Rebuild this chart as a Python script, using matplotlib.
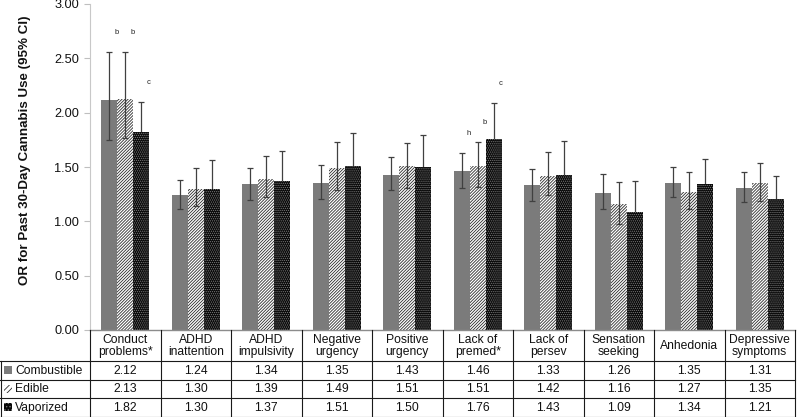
import numpy as np
import matplotlib
matplotlib.use("Agg")
import matplotlib.pyplot as plt
from matplotlib.patches import Rectangle

plt.rcParams['font.family'] = ['Liberation Sans', 'DejaVu Sans']
plt.rcParams['hatch.linewidth'] = 0.6

categories = ["Conduct\nproblems*", "ADHD\ninattention", "ADHD\nimpulsivity", "Negative\nurgency",
              "Positive\nurgency", "Lack of\npremed*", "Lack of\npersev", "Sensation\nseeking",
              "Anhedonia", "Depressive\nsymptoms"]
series_names = ["Combustible", "Edible", "Vaporized"]

combustible = [2.12, 1.24, 1.34, 1.35, 1.43, 1.46, 1.33, 1.26, 1.35, 1.31]
comb_lo = [1.75, 1.11, 1.20, 1.21, 1.29, 1.31, 1.19, 1.11, 1.22, 1.18]
comb_hi = [2.56, 1.38, 1.49, 1.52, 1.59, 1.63, 1.48, 1.44, 1.50, 1.45]

edible = [2.13, 1.30, 1.39, 1.49, 1.51, 1.51, 1.42, 1.16, 1.27, 1.35]
edib_lo = [1.77, 1.14, 1.22, 1.29, 1.31, 1.32, 1.24, 0.98, 1.11, 1.19]
edib_hi = [2.56, 1.49, 1.60, 1.73, 1.72, 1.73, 1.64, 1.36, 1.45, 1.54]

vaporized = [1.82, 1.30, 1.37, 1.51, 1.50, 1.76, 1.43, 1.09, 1.34, 1.21]
vapo_lo = [1.58, 1.08, 1.14, 1.26, 1.26, 1.48, 1.18, 0.87, 1.14, 1.03]
vapo_hi = [2.10, 1.56, 1.65, 1.81, 1.79, 2.09, 1.74, 1.37, 1.57, 1.42]

# superscript letters: (category index, series index, letter)
annot_cat = [0, 0, 0, 5, 5, 5]
annot_ser = [0, 1, 2, 0, 1, 2]
annot_txt = ["b", "b", "c", "h", "b", "c"]

yticks = [0.0, 0.5, 1.0, 1.5, 2.0, 2.5, 3.0]

W, H = 800, 417
fig = plt.figure(figsize=(W / 100, H / 100), dpi=100)
left_px, right_px, top_px, bot_px = 90, 795, 4, 330
ax = fig.add_axes([left_px / W, 1 - bot_px / H, (right_px - left_px) / W, (bot_px - top_px) / H])

n = len(categories)
x = np.arange(n)
w = 0.227
comb = np.array(combustible); edib = np.array(edible); vapo = np.array(vaporized)

comb_style = dict(facecolor='#7b7b7b', edgecolor='none')
edib_style = dict(facecolor='white', edgecolor='#2a2a2a', hatch='/' * 11, linewidth=0)
vapo_style = dict(facecolor='#080808', edgecolor='#7a7a7a', hatch='.' * 8, linewidth=0)

ax.bar(x - w, comb, w, zorder=2, **comb_style)
ax.bar(x, edib, w, zorder=2, **edib_style)
ax.bar(x + w, vapo, w, zorder=2, **vapo_style)

ekw = dict(fmt='none', ecolor='#404040', elinewidth=0.9, capsize=2.5, capthick=0.9)
ax.errorbar(x - w, comb, yerr=[comb - np.array(comb_lo), np.array(comb_hi) - comb], zorder=3, **ekw)
ax.errorbar(x, edib, yerr=[edib - np.array(edib_lo), np.array(edib_hi) - edib], zorder=3, **ekw)
ax.errorbar(x + w, vapo, yerr=[vapo - np.array(vapo_lo), np.array(vapo_hi) - vapo], zorder=1.5, **ekw)

his = [comb_hi, edib_hi, vapo_hi]
for c, s, t in zip(annot_cat, annot_ser, annot_txt):
    ax.text(c + (s - 1) * w + 0.1, his[s][c] + 0.18, t, fontsize=5.5, ha='center', va='center', color='#222222')

ax.set_xlim(-0.5, n - 0.5)
ax.set_ylim(0, 3)
ax.set_yticks(yticks)
ax.set_yticklabels([f"{v:.2f}" for v in yticks], fontsize=9.2, color='#111111')
ax.set_xticks([])
ax.tick_params(axis='y', direction='out', length=4, pad=4, color='#bfbfbf')
for sp in ['top', 'right']:
    ax.spines[sp].set_visible(False)
ax.spines['left'].set_color('#c8c8c8')
ax.spines['bottom'].set_color('#8c8c8c')
ax.spines['bottom'].set_linewidth(1.0)
ax.set_ylabel("OR for Past 30-Day Cannabis Use (95% CI)", fontsize=9.6, fontweight='bold', color='#111111')
ax.yaxis.set_label_coords(-0.083, 0.55)

# ---- data table ----
ov = fig.add_axes([0, 0, 1, 1])
ov.set_xlim(0, W); ov.set_ylim(H, 0); ov.axis('off')
colw = (right_px - left_px) / n
edges = [left_px + i * colw for i in range(n + 1)]
row_y = [bot_px, 360.7, 379.5, 398.0, 416.5]
lc = '#1a1a1a'; lw = 0.8
for e in edges:
    ov.plot([e, e], [bot_px, row_y[-1]], color=lc, lw=lw, clip_on=False)
ov.plot([0.5, 0.5], [row_y[1], row_y[-1]], color=lc, lw=lw, clip_on=False)
for yy in row_y[1:]:
    ov.plot([0, right_px], [yy, yy], color=lc, lw=lw, clip_on=False)

for i, cat in enumerate(categories):
    cx = (edges[i] + edges[i + 1]) / 2
    ov.text(cx, (row_y[0] + row_y[1]) / 2 + 0.5, cat, fontsize=8.7, ha='center', va='center',
            linespacing=1.05, color='#111111')

all_vals = [combustible, edible, vaporized]
key_styles = [comb_style, dict(edib_style, hatch='/' * 6), dict(vapo_style, hatch='.' * 5)]
for r, (name, vals) in enumerate(zip(series_names, all_vals)):
    cy = (row_y[r + 1] + row_y[r + 2]) / 2
    ov.add_patch(Rectangle((4, cy - 4), 8, 8, **key_styles[r]))
    ov.text(15, cy + 0.5, name, fontsize=8.7, ha='left', va='center', color='#111111')
    for i, v in enumerate(vals):
        cx = (edges[i] + edges[i + 1]) / 2
        ov.text(cx, cy + 0.5, f"{v:.2f}", fontsize=8.7, ha='center', va='center', color='#111111')

fig.savefig("out.png", dpi=100)
